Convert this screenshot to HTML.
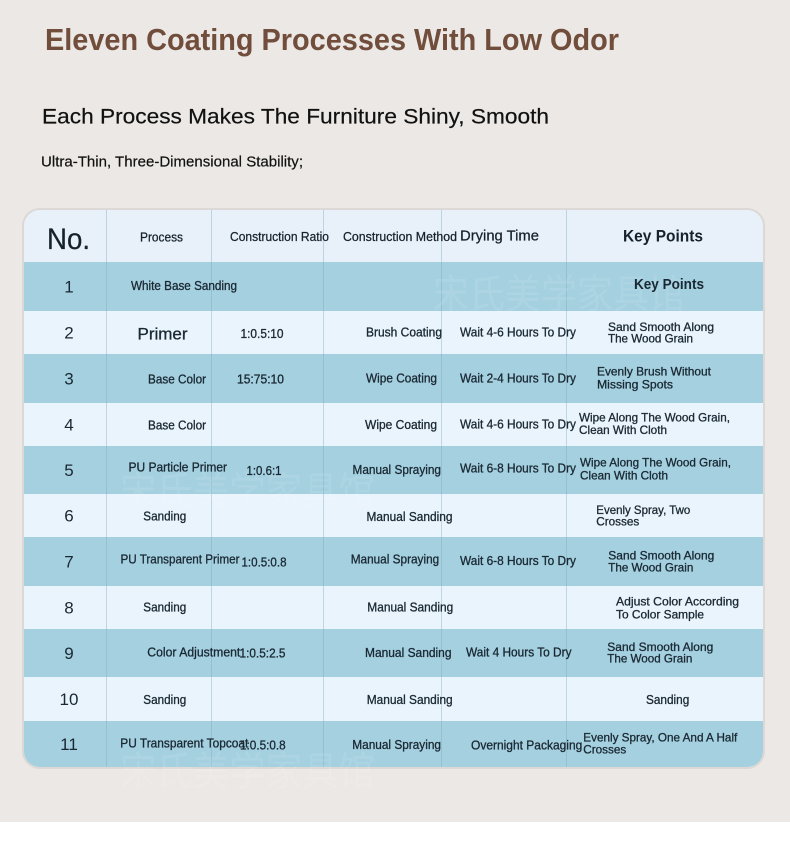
<!DOCTYPE html>
<html><head><meta charset="utf-8"><style>
html,body{margin:0;padding:0;background:#ece8e5;}
svg{display:block;}
text{font-family:"Liberation Sans","Noto Sans CJK SC",sans-serif;}
</style></head><body>
<svg width="790" height="852" viewBox="0 0 790 852" xmlns="http://www.w3.org/2000/svg">
<defs>
<clipPath id="tbl"><rect x="24" y="210" width="739" height="557" rx="16" ry="16"/></clipPath>
</defs>
<rect x="0" y="0" width="790" height="852" fill="#ece8e5"/>
<rect x="0" y="822" width="790" height="30" fill="#ffffff"/>

<text x="45" y="50" font-size="31" font-weight="bold" fill="#714d3b" textLength="574" lengthAdjust="spacingAndGlyphs">Eleven Coating Processes With Low Odor</text>
<text x="42" y="123.5" font-size="21.5" fill="#111111" stroke="#111111" stroke-width="0.2" textLength="507" lengthAdjust="spacingAndGlyphs">Each Process Makes The Furniture Shiny, Smooth</text>
<text x="41" y="166.5" font-size="15" fill="#111111" stroke="#111111" stroke-width="0.2" textLength="262" lengthAdjust="spacingAndGlyphs">Ultra-Thin, Three-Dimensional Stability;</text>

<rect x="23" y="209" width="741" height="559" rx="17" ry="17" fill="none" stroke="#dcd8d5" stroke-width="2"/>
<g clip-path="url(#tbl)">
<rect x="24" y="210" width="739" height="52" fill="#e8f1fa"/>
<rect x="24" y="262" width="739" height="49" fill="#a4d0e0"/>
<rect x="24" y="311" width="739" height="43" fill="#eaf4fc"/>
<rect x="24" y="354" width="739" height="49" fill="#a4d0e0"/>
<rect x="24" y="403" width="739" height="43" fill="#eaf4fc"/>
<rect x="24" y="446" width="739" height="48" fill="#a4d0e0"/>
<rect x="24" y="494" width="739" height="43" fill="#eaf4fc"/>
<rect x="24" y="537" width="739" height="49" fill="#a4d0e0"/>
<rect x="24" y="586" width="739" height="43" fill="#eaf4fc"/>
<rect x="24" y="629" width="739" height="48" fill="#a4d0e0"/>
<rect x="24" y="677" width="739" height="44" fill="#eaf4fc"/>
<rect x="24" y="721" width="739" height="46" fill="#a4d0e0"/>
<g stroke="#7fa7b8" stroke-opacity="0.4" stroke-width="1">
<line x1="106.5" y1="210" x2="106.5" y2="767"/>
<line x1="211.5" y1="210" x2="211.5" y2="767"/>
<line x1="323.5" y1="210" x2="323.5" y2="767"/>
<line x1="441.5" y1="210" x2="441.5" y2="767"/>
<line x1="566.5" y1="210" x2="566.5" y2="767"/>
</g>
</g>

<g fill="#ffffff" fill-opacity="0.1">
<text x="433" y="308" textLength="252" lengthAdjust="spacingAndGlyphs" font-size="40">宋氏美学家具馆</text>
<text x="120" y="505" textLength="255" lengthAdjust="spacingAndGlyphs" font-size="40">宋氏美学家具馆</text>
<text x="120" y="785" textLength="255" lengthAdjust="spacingAndGlyphs" font-size="40">宋氏美学家具馆</text>
</g>

<!-- header -->
<g fill="#15222c" stroke="#15222c" stroke-width="0.25">
<text x="47" y="249" font-size="30" textLength="43" lengthAdjust="spacingAndGlyphs">No.</text>
<text x="140" y="241.5" font-size="12.5" textLength="43" lengthAdjust="spacingAndGlyphs">Process</text>
<text x="230" y="241" font-size="12.5" textLength="99" lengthAdjust="spacingAndGlyphs">Construction Ratio</text>
<text x="343" y="241" font-size="12.5" textLength="114" lengthAdjust="spacingAndGlyphs">Construction Method</text>
<text x="460" y="240.7" font-size="15" textLength="79" lengthAdjust="spacingAndGlyphs">Drying Time</text>
<text x="623" y="241.5" font-size="16.5" font-weight="bold" stroke-width="0" textLength="80" lengthAdjust="spacingAndGlyphs">Key Points</text>
</g>

<!-- numbers -->
<g fill="#1a2833" font-size="17" text-anchor="middle">
<text x="69" y="292.5">1</text>
<text x="69" y="338.5">2</text>
<text x="69" y="384.5">3</text>
<text x="69" y="430.5">4</text>
<text x="69" y="476">5</text>
<text x="69" y="521.5">6</text>
<text x="69" y="567.5">7</text>
<text x="69" y="613.5">8</text>
<text x="69" y="659">9</text>
<text x="69" y="705">10</text>
<text x="69" y="750">11</text>
</g>

<g fill="#1a2833" font-size="12.5" stroke="#1a2833" stroke-width="0.3">
<!-- row 1 -->
<text x="131" y="290" textLength="106" lengthAdjust="spacingAndGlyphs">White Base Sanding</text>
<text x="634" y="289" font-size="15" font-weight="bold" stroke-width="0" textLength="70" lengthAdjust="spacingAndGlyphs">Key Points</text>
<!-- row 2 -->
<text x="137.5" y="339.3" font-size="16.5" textLength="50" lengthAdjust="spacingAndGlyphs">Primer</text>
<text x="240.5" y="338" textLength="43" lengthAdjust="spacingAndGlyphs">1:0.5:10</text>
<text x="366" y="336.7" textLength="76" lengthAdjust="spacingAndGlyphs">Brush Coating</text>
<text x="460" y="336.7" textLength="116" lengthAdjust="spacingAndGlyphs">Wait 4-6 Hours To Dry</text>
<text x="608" y="331" font-size="12" textLength="106" lengthAdjust="spacingAndGlyphs">Sand Smooth Along</text>
<text x="608" y="342.5" font-size="12" textLength="85" lengthAdjust="spacingAndGlyphs">The Wood Grain</text>
<!-- row 3 -->
<text x="148" y="383.5" textLength="58" lengthAdjust="spacingAndGlyphs">Base Color</text>
<text x="237" y="383.5" textLength="47" lengthAdjust="spacingAndGlyphs">15:75:10</text>
<text x="366" y="382.7" textLength="71" lengthAdjust="spacingAndGlyphs">Wipe Coating</text>
<text x="460" y="382.5" textLength="116" lengthAdjust="spacingAndGlyphs">Wait 2-4 Hours To Dry</text>
<text x="597" y="375.7" font-size="12" textLength="114" lengthAdjust="spacingAndGlyphs">Evenly Brush Without</text>
<text x="597" y="388.3" font-size="12" textLength="76" lengthAdjust="spacingAndGlyphs">Missing Spots</text>
<!-- row 4 -->
<text x="148" y="429.3" textLength="58" lengthAdjust="spacingAndGlyphs">Base Color</text>
<text x="365" y="429" textLength="72" lengthAdjust="spacingAndGlyphs">Wipe Coating</text>
<text x="460" y="428.5" textLength="116" lengthAdjust="spacingAndGlyphs">Wait 4-6 Hours To Dry</text>
<text x="579" y="421.7" font-size="12" textLength="151" lengthAdjust="spacingAndGlyphs">Wipe Along The Wood Grain,</text>
<text x="579" y="434" font-size="12" textLength="88" lengthAdjust="spacingAndGlyphs">Clean With Cloth</text>
<!-- row 5 -->
<text x="128.5" y="471.7" textLength="98.5" lengthAdjust="spacingAndGlyphs">PU Particle Primer</text>
<text x="246.5" y="475" textLength="35" lengthAdjust="spacingAndGlyphs">1:0.6:1</text>
<text x="352.5" y="474" textLength="88.5" lengthAdjust="spacingAndGlyphs">Manual Spraying</text>
<text x="460" y="472.5" textLength="116" lengthAdjust="spacingAndGlyphs">Wait 6-8 Hours To Dry</text>
<text x="580" y="466.7" font-size="12" textLength="151" lengthAdjust="spacingAndGlyphs">Wipe Along The Wood Grain,</text>
<text x="580" y="479.3" font-size="12" textLength="88" lengthAdjust="spacingAndGlyphs">Clean With Cloth</text>
<!-- row 6 -->
<text x="143.3" y="520.7" textLength="43" lengthAdjust="spacingAndGlyphs">Sanding</text>
<text x="366.5" y="521" textLength="86" lengthAdjust="spacingAndGlyphs">Manual Sanding</text>
<text x="596.3" y="514" font-size="12" textLength="94" lengthAdjust="spacingAndGlyphs">Evenly Spray, Two</text>
<text x="596.3" y="525.7" font-size="12" textLength="43" lengthAdjust="spacingAndGlyphs">Crosses</text>
<!-- row 7 -->
<text x="120.5" y="563.3" textLength="119" lengthAdjust="spacingAndGlyphs">PU Transparent Primer</text>
<text x="241.5" y="566.7" textLength="45" lengthAdjust="spacingAndGlyphs">1:0.5:0.8</text>
<text x="350.7" y="563.5" textLength="88.5" lengthAdjust="spacingAndGlyphs">Manual Spraying</text>
<text x="460" y="565" textLength="116" lengthAdjust="spacingAndGlyphs">Wait 6-8 Hours To Dry</text>
<text x="608.3" y="559.3" font-size="12" textLength="106" lengthAdjust="spacingAndGlyphs">Sand Smooth Along</text>
<text x="608.3" y="571.7" font-size="12" textLength="85" lengthAdjust="spacingAndGlyphs">The Wood Grain</text>
<!-- row 8 -->
<text x="143.3" y="611.7" textLength="43" lengthAdjust="spacingAndGlyphs">Sanding</text>
<text x="367.3" y="611.7" textLength="86" lengthAdjust="spacingAndGlyphs">Manual Sanding</text>
<text x="616" y="605.7" font-size="12" textLength="123" lengthAdjust="spacingAndGlyphs">Adjust Color According</text>
<text x="616" y="618.3" font-size="12" textLength="88" lengthAdjust="spacingAndGlyphs">To Color Sample</text>
<!-- row 9 -->
<text x="147.3" y="656.7" textLength="93" lengthAdjust="spacingAndGlyphs">Color Adjustment</text>
<text x="239.5" y="657.7" textLength="46" lengthAdjust="spacingAndGlyphs">1:0.5:2.5</text>
<text x="365" y="657" textLength="86.5" lengthAdjust="spacingAndGlyphs">Manual Sanding</text>
<text x="466" y="656.7" textLength="105.5" lengthAdjust="spacingAndGlyphs">Wait 4 Hours To Dry</text>
<text x="607.3" y="651" font-size="12" textLength="106" lengthAdjust="spacingAndGlyphs">Sand Smooth Along</text>
<text x="607.3" y="662.7" font-size="12" textLength="85" lengthAdjust="spacingAndGlyphs">The Wood Grain</text>
<!-- row 10 -->
<text x="143.3" y="704" textLength="43" lengthAdjust="spacingAndGlyphs">Sanding</text>
<text x="366.7" y="704" textLength="86" lengthAdjust="spacingAndGlyphs">Manual Sanding</text>
<text x="646" y="704" textLength="43.3" lengthAdjust="spacingAndGlyphs">Sanding</text>
<!-- row 11 -->
<text x="120.3" y="747.7" textLength="128" lengthAdjust="spacingAndGlyphs">PU Transparent Topcoat</text>
<text x="240" y="749.3" textLength="45.7" lengthAdjust="spacingAndGlyphs">1:0.5:0.8</text>
<text x="352.3" y="749" textLength="88.7" lengthAdjust="spacingAndGlyphs">Manual Spraying</text>
<text x="471" y="749.3" textLength="111.3" lengthAdjust="spacingAndGlyphs">Overnight Packaging</text>
<text x="583.3" y="741.7" font-size="12" textLength="154" lengthAdjust="spacingAndGlyphs">Evenly Spray, One And A Half</text>
<text x="583.3" y="753.3" font-size="12" textLength="43" lengthAdjust="spacingAndGlyphs">Crosses</text>
</g>
</svg>
</body></html>
